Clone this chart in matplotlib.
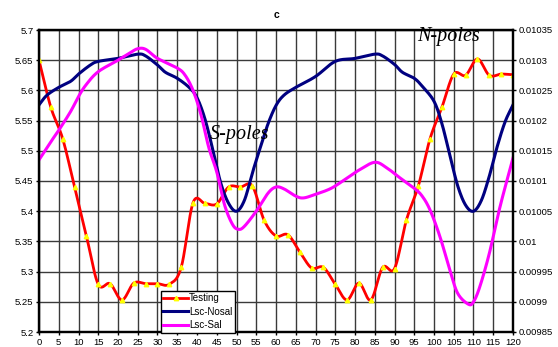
import numpy as np
import matplotlib
matplotlib.use("Agg")
import matplotlib.pyplot as plt
from matplotlib.ticker import MultipleLocator, FuncFormatter

# Measured response (left axis)
test_x = list(range(0, 121, 3))
test_y = [5.650, 5.572, 5.520, 5.440, 5.359, 5.279, 5.280, 5.253, 5.281, 5.280,
          5.280, 5.279, 5.307, 5.414, 5.413, 5.412, 5.440, 5.440, 5.442, 5.385,
          5.359, 5.361, 5.333, 5.306, 5.307, 5.279, 5.253, 5.281, 5.253, 5.307,
          5.305, 5.385, 5.441, 5.520, 5.572, 5.627, 5.625, 5.652, 5.625, 5.627,
          5.626]

# Lsc without saliency (right axis)
nosal_x = [0, 2, 5, 8, 10, 13, 15, 20, 25, 27, 30, 32, 35, 38, 40, 42, 44, 46,
           48, 50, 52, 54, 56, 58, 60, 62, 65, 70, 75, 80, 85, 87, 90, 92, 95,
           97, 100, 102, 104, 106, 108, 110, 112, 114, 116, 118, 120]
nosal_y = [0.010226, 0.010242, 0.010255, 0.010265, 0.010277, 0.010292, 0.010298,
           0.010303, 0.010310, 0.010307, 0.010292, 0.010280, 0.010270, 0.010255,
           0.010238, 0.010203, 0.010152, 0.010097, 0.010063, 0.010050, 0.010068,
           0.010113, 0.010155, 0.010195, 0.010225, 0.010242, 0.010255, 0.010273,
           0.010298, 0.010303, 0.010310, 0.010307, 0.010293, 0.010280, 0.010270,
           0.010257, 0.010232, 0.010195, 0.010143, 0.010092, 0.010060, 0.010050,
           0.010068, 0.010108, 0.010157, 0.010198, 0.010226]

# Lsc with saliency (right axis)
sal_x = [0, 3, 5, 8, 10, 12, 15, 20, 23, 25, 27, 30, 35, 37, 39, 41, 43, 45, 47,
         49, 50.5, 52, 55, 58, 60, 62, 65, 67, 70, 74, 78, 81, 85, 88, 91, 95,
         97, 99, 101.5, 104, 106, 108.7, 110, 111.6, 114, 116.7, 120]
sal_y = [0.010135, 0.010165, 0.010184, 0.010215, 0.010240, 0.010260, 0.010281,
         0.010300, 0.010312, 0.010319, 0.010318, 0.010303, 0.010287, 0.010275,
         0.010250, 0.010210, 0.010155, 0.010115, 0.010060, 0.010028, 0.010020,
         0.010025, 0.010050, 0.010080, 0.010090, 0.010087, 0.010075, 0.010072,
         0.010078, 0.010088, 0.010105, 0.010118, 0.010131, 0.010122, 0.010107,
         0.010088, 0.010075, 0.010052, 0.010008, 0.009953, 0.009914, 0.009896,
         0.009900, 0.009925, 0.009980, 0.010057, 0.010138]

series_names = ["Testing", "Lsc-Nosal", "Lsc-Sal"]
x_ticks = list(range(0, 121, 5))


def smooth(x, y, n=20):
    """Catmull-Rom smoothing through every point (spreadsheet-style smooth line)."""
    x = np.asarray(x, float)
    y = np.asarray(y, float)
    px = np.concatenate([[2 * x[0] - x[1]], x, [2 * x[-1] - x[-2]]])
    py = np.concatenate([[2 * y[0] - y[1]], y, [2 * y[-1] - y[-2]]])
    xs, ys = [], []
    t = np.linspace(0, 1, n, endpoint=False)
    for i in range(1, len(px) - 2):
        for arr, out in ((px, xs), (py, ys)):
            p0, p1, p2, p3 = arr[i - 1], arr[i], arr[i + 1], arr[i + 2]
            out.append(0.5 * ((2 * p1) + (-p0 + p2) * t
                              + (2 * p0 - 5 * p1 + 4 * p2 - p3) * t ** 2
                              + (-p0 + 3 * p1 - 3 * p2 + p3) * t ** 3))
    xs.append([x[-1]])
    ys.append([y[-1]])
    return np.concatenate(xs), np.concatenate(ys)


plt.rcParams["font.family"] = ["Liberation Sans", "DejaVu Sans"]

fig = plt.figure(figsize=(5.58, 3.47), dpi=100)
ax = fig.add_axes([39 / 558, 1 - 332 / 347, 474 / 558, 302 / 347])
ax2 = ax.twinx()

# Measured curve with triangle markers
sx, sy = smooth(test_x, test_y)
ax.plot(sx, sy, color="#ff0000", lw=2.0, zorder=3)
ax.plot(test_x, test_y, ls="none", marker="^", ms=3.2, mfc="#ffff00",
        mec="#ffff00", zorder=4)

nx, ny = smooth(nosal_x, nosal_y)
ax2.plot(nx, ny, color="#000080", lw=2.2)
gx, gy = smooth(sal_x, sal_y)
ax2.plot(gx, gy, color="#ff00ff", lw=2.2)

ax.set_xlim(0, 120)
ax.set_ylim(5.2, 5.7)
ax2.set_ylim(0.00985, 0.01035)

ax.set_xticks(x_ticks)
ax.yaxis.set_major_locator(MultipleLocator(0.05))
ax2.yaxis.set_major_locator(MultipleLocator(0.00005))
ax.yaxis.set_major_formatter(FuncFormatter(lambda v, p: f"{round(v, 2):g}"))
ax2.yaxis.set_major_formatter(FuncFormatter(lambda v, p: f"{round(v, 5):g}"))

ax.grid(True, color="#3a3a3a", lw=1.0)
ax.set_axisbelow(True)

for a in (ax, ax2):
    for s in a.spines.values():
        s.set_linewidth(1.6)
        s.set_color("black")
    a.tick_params(labelsize=6.8, length=2.5, width=1, colors="black", pad=1.5)

fig.text(0.5 * (39 + 513) / 558, 1 - 15 / 347, "c", ha="center", va="center",
         fontsize=7.5, fontweight="bold")

ax2.text(240 / 558, 1 - 135 / 347, "S-poles", transform=fig.transFigure,
         ha="center", va="center", fontsize=14.5, style="italic",
         family="Liberation Serif")
ax2.text(448.5 / 558, 1 - 36 / 347, "N-poles", transform=fig.transFigure,
         ha="center", va="center", fontsize=14.5, style="italic",
         family="Liberation Serif")

handles = [
    plt.Line2D([], [], color="#ff0000", lw=2, marker="^", ms=3.2,
               mfc="#ffff00", mec="#ffff00", markevery=[1]),
    plt.Line2D([], [], color="#000080", lw=2.2),
    plt.Line2D([], [], color="#ff00ff", lw=2.2),
]
leg = ax2.legend(handles, series_names, loc="lower left",
                 bbox_to_anchor=(160.5 / 558, 1 - 332.5 / 347),
                 bbox_transform=fig.transFigure, fontsize=7, frameon=True,
                 fancybox=False, edgecolor="black", framealpha=1,
                 handlelength=2.6, handletextpad=0.1, borderpad=0.25,
                 labelspacing=0.35, borderaxespad=0)
leg.get_frame().set_linewidth(1.0)

fig.savefig("out.png", dpi=100)
